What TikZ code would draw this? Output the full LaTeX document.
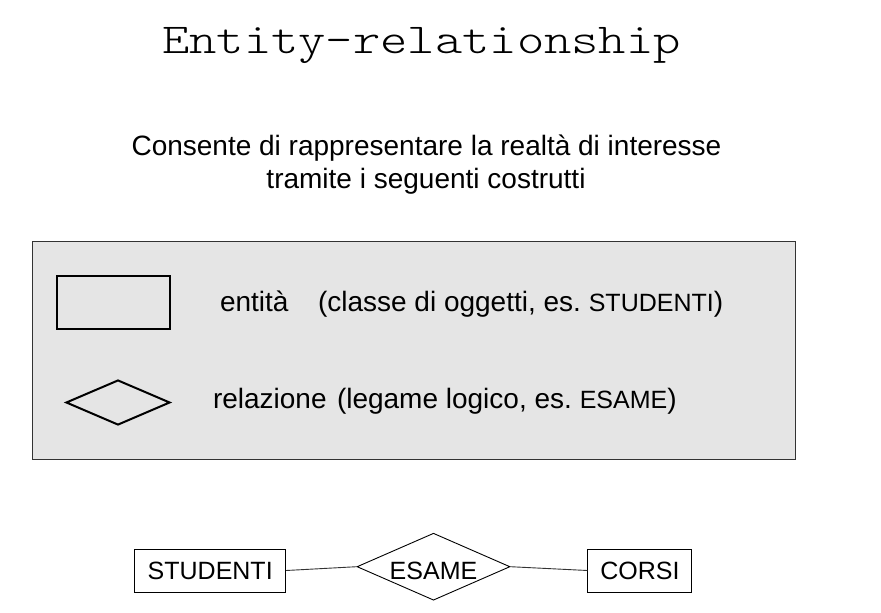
\documentclass[tikz,border=0pt]{standalone}
\usepackage{fontspec}
\setmainfont{Liberation Sans}
\newfontfamily\monofam{lmmonolt10-regular.otf}
\usetikzlibrary{shapes.geometric}
\definecolor{panelgray}{HTML}{E5E5E5}
\definecolor{edgegray}{HTML}{333333}
\tikzset{
  txt/.style={inner sep=0pt, outer sep=0pt, font=\fontsize{28}{33}\selectfont},
  entbox/.style={draw=black, line width=0.9pt, inner sep=0pt, minimum height=43pt, font=\fontsize{25}{30}\selectfont},
  relbox/.style={draw=black, line width=0.9pt, diamond, inner sep=0pt, minimum width=153pt, minimum height=67pt},
  rellabel/.style={inner sep=0pt, font=\fontsize{25}{30}\selectfont},
  iconrect/.style={draw=black, line width=2pt, inner sep=0pt, minimum width=113pt, minimum height=53pt},
  icondiam/.style={draw=black, line width=2pt, diamond, inner sep=0pt, minimum width=104pt, minimum height=45pt},
  link/.style={draw=edgegray, line width=0.9pt}
}
\begin{document}
\frenchspacing
\begin{tikzpicture}[x=1pt,y=-1pt]
\useasboundingbox[fill=white] (0,0) rectangle (881,613);
% title
\node[inner sep=0pt, anchor=base, yscale=0.82, transform shape, font=\monofam\fontsize{52}{56}\selectfont] (title) at (421.5,53.3) {Entity-relationship};
% subtitle
\node[txt, anchor=base] (sub1) at (426.5,155) {Consente di rappresentare la realtà di interesse};
\node[txt, anchor=base] (sub2) at (426,188) {tramite i seguenti costrutti};
% panel
\node[draw=edgegray, fill=panelgray, line width=1.2pt, inner sep=0pt, minimum width=763pt, minimum height=218pt, anchor=north west] (panel) at (32,241) {};
\node[iconrect] (irect) at (113.5,302.3) {};
\node[icondiam] (idiam) at (118,402.5) {};
\node[txt, anchor=base west] (entlab) at (220,311) {entità};
\node[txt, anchor=base west] (entdesc) at (318,311) {(classe di oggetti, es. {\fontsize{25}{30}\selectfont STUDENTI})};
\node[txt, anchor=base west] (rellab) at (213,408) {relazione};
\node[txt, anchor=base west] (reldesc) at (337,408) {(legame logico, es. {\fontsize{25}{30}\selectfont ESAME})};
% example diagram
\node[entbox, minimum width=151pt] (stud) at (210.2,570.5) {STUDENTI};
\node[relbox] (esame) at (433.5,566.7) {};
\node[rellabel, anchor=base] (esamelab) at (433.5,579.3) {ESAME};
\node[entbox, minimum width=104pt] (corsi) at (639.9,570.5) {CORSI};
\draw[link] (stud.east) -- (esame.west);
\draw[link] (esame.east) -- (corsi.west);
\end{tikzpicture}
\end{document}
